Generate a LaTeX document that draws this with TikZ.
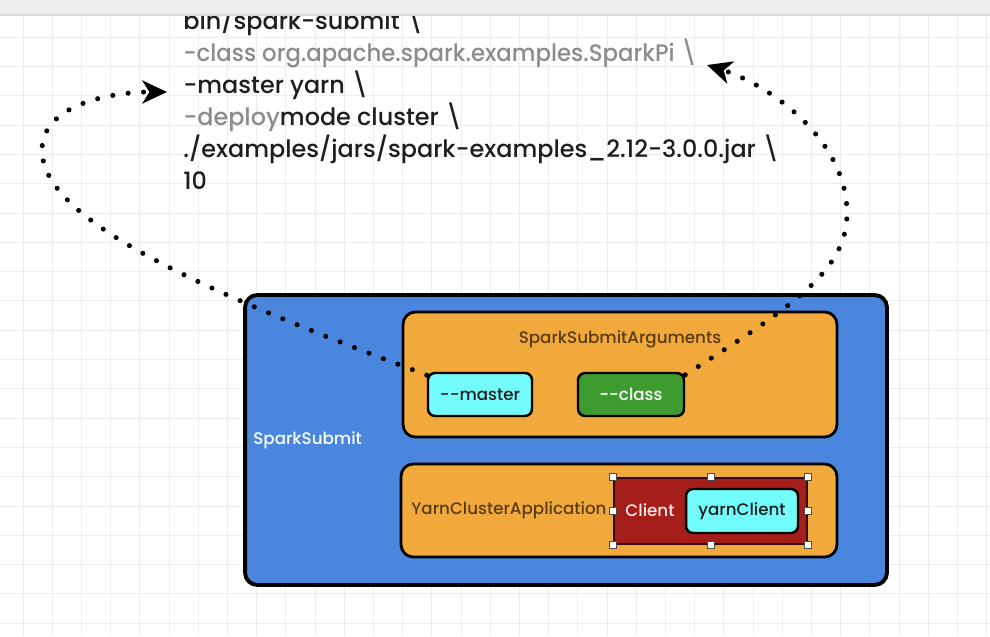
\documentclass[tikz,border=0pt]{standalone}
\usepackage{fontspec}
\setmainfont{Poppins}[UprightFont={* Medium}]
\usepackage{xcolor}
\usepackage{graphicx}
\usetikzlibrary{arrows.meta,positioning,calc}
\definecolor{spblue}{HTML}{4A85DE}
\definecolor{sporange}{HTML}{F2A93B}
\definecolor{spcyan}{HTML}{72FCFC}
\definecolor{spgreen}{HTML}{3E9B2F}
\definecolor{spred}{HTML}{A61E1A}
\definecolor{spink}{HTML}{1E1E1E}
\definecolor{spgray}{HTML}{8C8C8C}
\definecolor{spbrown}{HTML}{5A3B12}
\definecolor{spgridc}{HTML}{EDEDED}
\definecolor{spbar}{HTML}{EDEDED}
\tikzset{
  spgrid/.style={draw=spgridc,line width=0.5pt},
  spcode/.style={anchor=base west,inner sep=0pt,text=spink,font=\fontsize{13.6}{15}\selectfont},
  spouter/.style={draw=black,fill=spblue,line width=2.2pt,rounded corners=7pt,inner sep=0pt},
  sppanel/.style={draw=black,fill=sporange,line width=1.6pt,rounded corners=7pt,inner sep=0pt},
  spkey/.style={draw=black,line width=1.4pt,rounded corners=4pt,inner sep=0pt,
    minimum height=0.86cm,font=\fontsize{9.5}{11}\selectfont},
  spclient/.style={draw=black!70!spred,fill=spred,line width=1.2pt,inner sep=0pt},
  sphandle/.style={draw=black!70,fill=white,line width=0.5pt,minimum size=4pt,inner sep=0pt},
  splabel/.style={inner sep=0pt,font=\fontsize{9.5}{11}\selectfont},
  spedge/.style={line width=2.9pt,line cap=round,dash pattern=on 0pt off 8.8pt,
    -{Stealth[length=14pt,width=13pt,inset=4pt]}}
}
\begin{document}
\begin{tikzpicture}[x=0.02cm,y=-0.02cm]
  \useasboundingbox (0,0) rectangle (990,636);
  \fill[white] (0,0) rectangle (990,636);
  % grid
  \foreach \gx in {0,...,33} \draw[spgrid] ({23+29.2*\gx},15) -- ({23+29.2*\gx},636);
  \foreach \gy in {0,...,20} \draw[spgrid] (0,{37.2+29.3*\gy}) -- (990,{37.2+29.3*\gy});
  % command lines
  \node[spcode] (l1) at (183,29) {bin/spark-submit \textbackslash};
  \node[spcode,text=spgray] (l2) at (183,61) {\scalebox{0.955}[1]{-class org.apache.spark.examples.SparkPi \textbackslash}};
  \node[spcode] (l3) at (183,93) {-master yarn \textbackslash};
  \node[spcode] (l4) at (183,125) {{\color{spgray}-deploy}mode cluster \textbackslash};
  \node[spcode] (l5) at (183,157) {./examples/jars/spark-examples\_2.12-3.0.0.jar \textbackslash};
  \node[spcode] (l6) at (183,189) {10};
  % top bar
  \fill[spbar] (0,0) rectangle (990,15);
  \draw[black!15,line width=0.6pt] (0,15) -- (990,15);
  % SparkSubmit
  \node[spouter,minimum width=12.84cm,minimum height=5.8cm] (sub) at (566,440) {};
  \node[splabel,anchor=west,text=white] (subl) at (253,440) {SparkSubmit};
  % SparkSubmitArguments
  \node[sppanel,minimum width=8.68cm,minimum height=2.5cm] (args) at (620,374.5) {};
  \node[splabel,text=spbrown] (argsl) at (620,339) {SparkSubmitArguments};
  \node[spkey,fill=spcyan,text=spink,minimum width=2.08cm] (mas) at (480,394.5) {-{}-master};
  \node[spkey,fill=spgreen,text=white,minimum width=2.12cm] (cls) at (631,394.5) {-{}-class};
  % YarnClusterApplication
  \node[sppanel,minimum width=8.72cm,minimum height=1.86cm] (yca) at (619,510.5) {};
  \node[splabel,anchor=west,text=spbrown] (ycal) at (411,510) {YarnClusterApplication};
  \node[spclient,minimum width=3.86cm,minimum height=1.32cm] (cli) at (710.5,511) {};
  \node[splabel,text=red!8!white] (clil) at (650,510) {Client};
  \node[spkey,fill=spcyan,text=spink,minimum width=2.24cm,minimum height=0.88cm] (yc) at (742,511) {yarnClient};
  \foreach \hp in {north west,north,north east,east,south east,south,south west,west}
    \node[sphandle] (h \hp) at (cli.\hp) {};
  % arguments back to the command line
  \draw[spedge] (mas.160) .. controls (200,290) and (42,220) .. (42,150)
    .. controls (42,105) and (110,92) .. (167,92);
  \draw[spedge] (cls.20) .. controls (795,305) and (847,270) .. (847,213)
    .. controls (847,140) and (770,85) .. (707,65);
\end{tikzpicture}
\end{document}
